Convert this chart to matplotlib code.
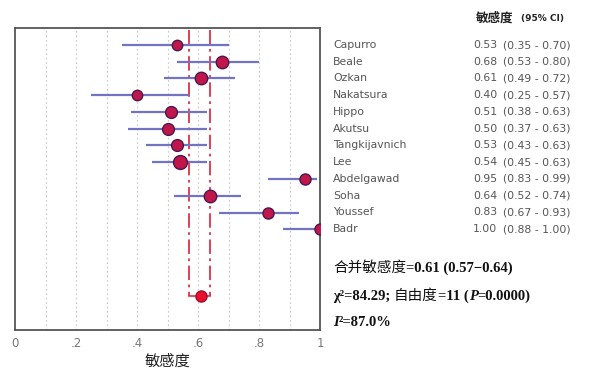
import matplotlib
matplotlib.use("Agg")
import matplotlib.pyplot as plt
from matplotlib.offsetbox import TextArea, HPacker, AnchoredOffsetbox
import numpy as np

studies = ["Capurro", "Beale", "Ozkan", "Nakatsura", "Hippo", "Akutsu",
           "Tangkijavnich", "Lee", "Abdelgawad", "Soha", "Youssef", "Badr"]
sens = [0.53, 0.68, 0.61, 0.40, 0.51, 0.50, 0.53, 0.54, 0.95, 0.64, 0.83, 1.00]
lo = [0.35, 0.53, 0.49, 0.25, 0.38, 0.37, 0.43, 0.45, 0.83, 0.52, 0.67, 0.88]
hi = [0.70, 0.80, 0.72, 0.57, 0.63, 0.63, 0.63, 0.63, 0.99, 0.74, 0.93, 1.00]
weights = [7.5, 9, 9, 7.5, 8.5, 8.5, 8.5, 10, 8, 9, 8, 8]
pooled = 0.61
pooled_lo = 0.57
pooled_hi = 0.64
xticks = [0, 0.2, 0.4, 0.6, 0.8, 1.0]
xticklabels = ["0", ".2", ".4", ".6", ".8", "1"]

W, H = 609, 374
fig = plt.figure(figsize=(W / 100, H / 100), dpi=100)
ax = fig.add_axes([15 / W, 1 - 330 / H, (320 - 15) / W, (330 - 28) / H])

rows = np.arange(1, len(studies) + 1)
prow = 16

for x in np.arange(0.1, 1.0, 0.1):
    ax.axvline(x, color="#c8c8c8", lw=0.8, ls=(0, (1.5, 2.5)), zorder=0)

for y, l, h in zip(rows, lo, hi):
    ax.plot([l, h], [y, y], color="#7373c4", lw=1.6, solid_capstyle="butt", zorder=2)
for y, s, w in zip(rows, sens, weights):
    ax.plot([s], [y], "o", ms=w, mfc="#c0164a", mec="#4a1850", mew=1.0, zorder=3)

red = "#e0304a"
for x in (pooled_lo, pooled_hi):
    ax.plot([x, x], [0.1, prow], color=red, lw=1.3, ls=(0, (8, 2.5, 1.5, 2.5)), zorder=1)
ax.plot([pooled_lo, pooled_hi], [prow, prow], color=red, lw=1.2, zorder=2)
ax.plot([pooled], [prow], "o", ms=8, mfc="#e8102a", mec="#a01030", zorder=3)

ax.set_xlim(0, 1)
ax.set_ylim(18, 0)
ax.set_yticks([])
ax.set_xticks(xticks)
ax.set_xticklabels(xticklabels, fontsize=8.5, color="#777777")
ax.tick_params(axis="x", length=0, pad=5)
for sp in ax.spines.values():
    sp.set_color("#555555")
    sp.set_linewidth(1.3)

cjk = ["Noto Sans CJK SC", "DejaVu Sans"]
ax.set_xlabel("敏感度", fontsize=11, family=cjk, color="#222222", labelpad=2)

txtc = "#555555"
for i, (name, s, l, h) in enumerate(zip(studies, sens, lo, hi)):
    y = 1 - (45 + i * 16.73) / H
    fig.text(333 / W, y, name, fontsize=7.8, color=txtc, va="center", ha="left")
    fig.text(497 / W, y, f"{s:.2f}", fontsize=7.8, color=txtc, va="center", ha="right")
    fig.text(503 / W, y, f"({l:.2f} - {h:.2f})", fontsize=7.8, color=txtc, va="center", ha="left")

fig.text(476 / W, 1 - 18 / H, "敏感度", fontsize=9, family=cjk, color="#222222",
         va="center", ha="left", fontweight="bold")
fig.text(521 / W, 1 - 18 / H, "(95% CI)", fontsize=6.5, color="#222222",
         va="center", ha="left", fontweight="bold")

serif = ["Liberation Serif", "Noto Sans CJK SC"]


def line(parts, ypix):
    areas = []
    for txt, style in parts:
        props = dict(fontsize=10.5, family=serif, color="#111111", fontweight="bold")
        if style == "i":
            props["fontstyle"] = "italic"
        if style == "c":
            props["fontweight"] = "normal"
        areas.append(TextArea(txt, textprops=props))
    box = HPacker(children=areas, align="baseline", pad=0, sep=0)
    ab = AnchoredOffsetbox(loc="center left", child=box, pad=0, frameon=False,
                           bbox_to_anchor=(333 / W, 1 - ypix / H),
                           bbox_transform=fig.transFigure, borderpad=0)
    fig.add_artist(ab)


line([("合并敏感度", "c"), ("=0.61 (0.57−0.64)", "b")], 268)
line([("χ²=84.29; ", "b"), ("自由度", "c"), ("=11 (", "b"), ("P", "i"), ("=0.0000)", "b")], 296)
line([("I", "i"), ("²=87.0%", "b")], 322)

fig.savefig("out.png", dpi=100)
